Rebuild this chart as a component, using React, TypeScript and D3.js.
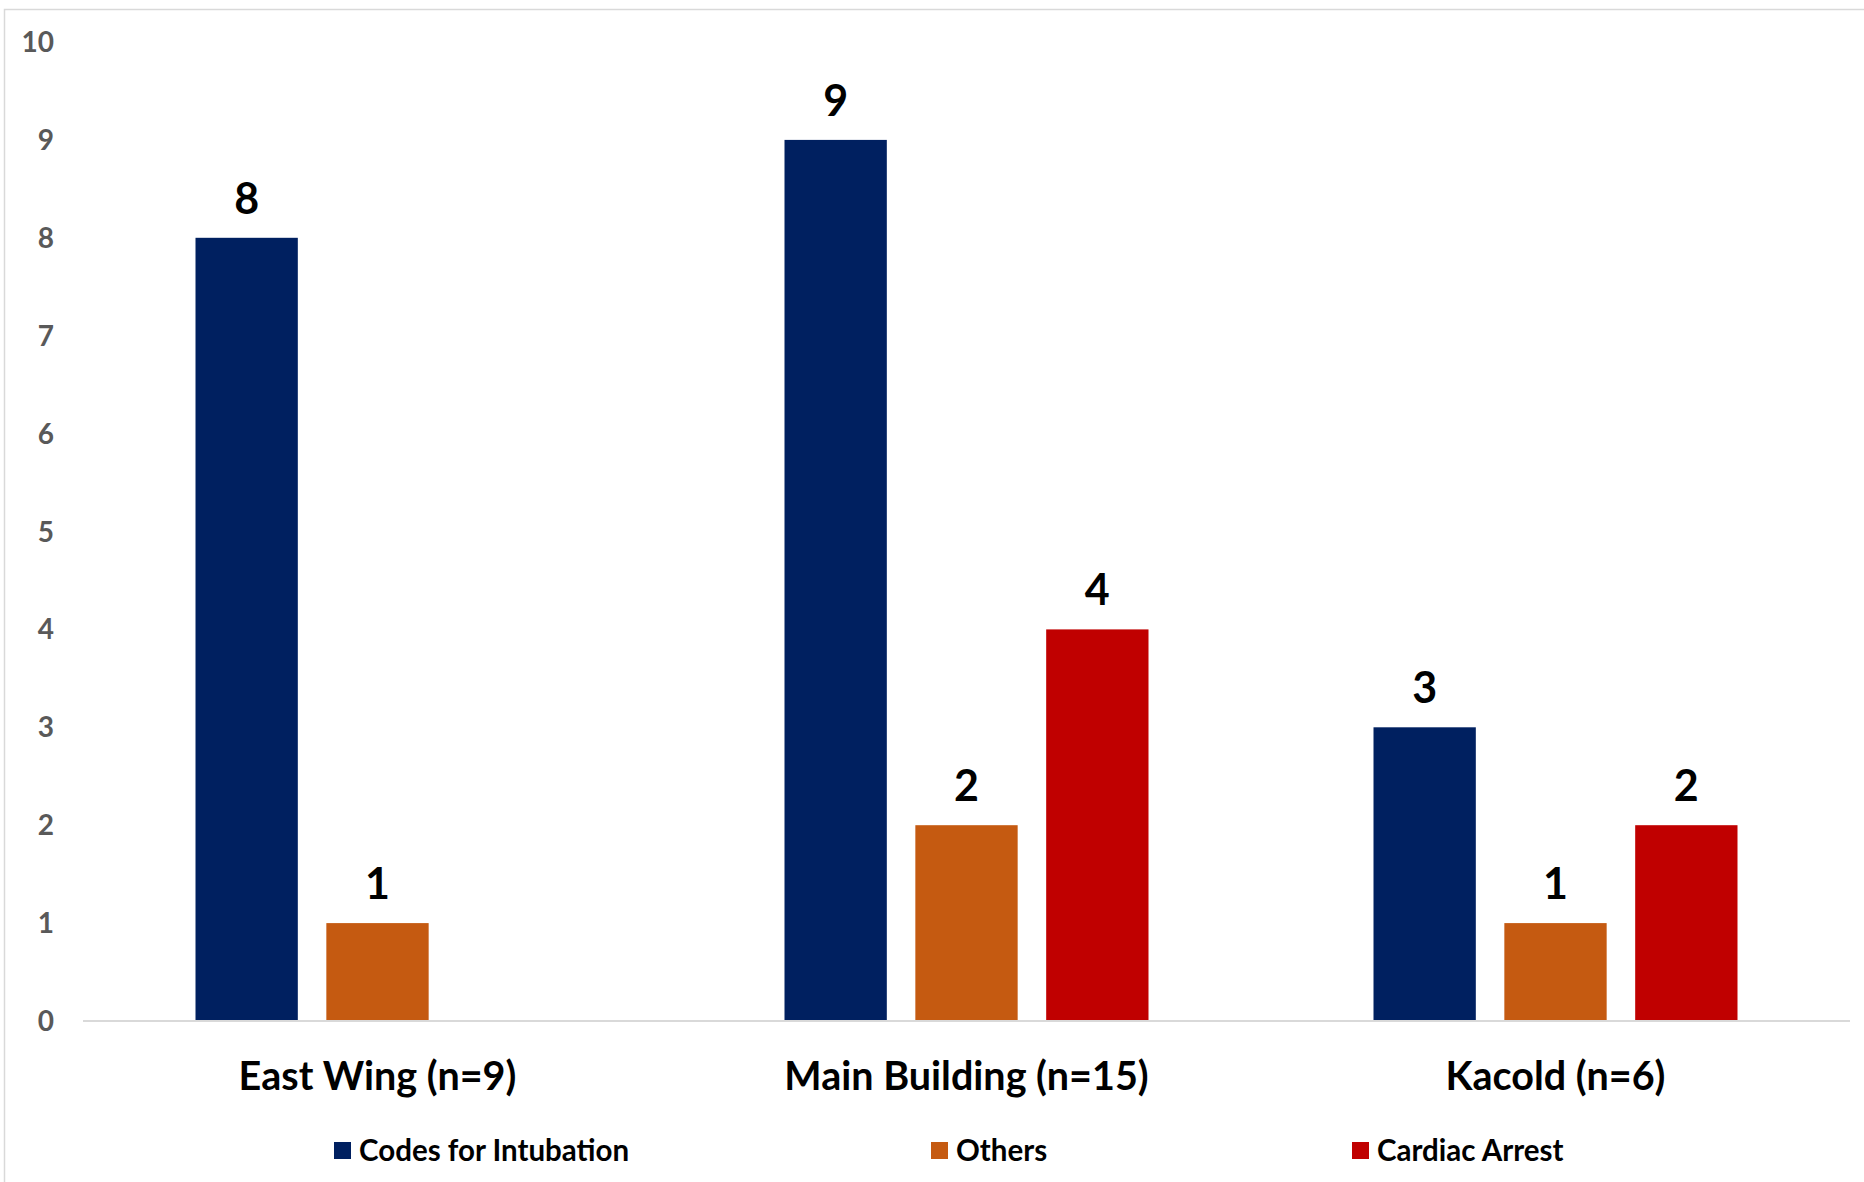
import React from 'react';
import * as d3 from 'd3';

// chart values
const categories = ['East Wing (n=9)', 'Main Building (n=15)', 'Kacold (n=6)'];
const seriesNames = ['Codes for Intubation', 'Others', 'Cardiac Arrest'];
const intubation = [8, 9, 3];
const others = [1, 2, 1];
const cardiacArrest = [null, 4, 2];
const yTicks = [0, 1, 2, 3, 4, 5, 6, 7, 8, 9, 10];

const seriesValues = [intubation, others, cardiacArrest];
const colors = ['#002060', '#C55A11', '#C00000'];

const W = 1864;
const H = 1182;
const margin = { top: 42, right: 14, bottom: 161, left: 83 };
const legendX = [334, 931, 1352];
const font = "Lato, 'Open Sans', sans-serif";

const App: React.FC = () => {
    const x0 = d3.scaleBand<string>()
        .domain(categories)
        .range([margin.left, W - margin.right])
        .paddingInner(0.382)
        .paddingOuter(0.191);

    const x1 = d3.scaleBand<string>()
        .domain(seriesNames)
        .range([0, x0.bandwidth()])
        .paddingInner(0.218);

    const y = d3.scaleLinear()
        .domain([0, 10])
        .range([H - margin.bottom, margin.top]);

    return (
        <svg width={W} height={H} style={{ position: 'absolute', left: 0, top: 0, display: 'block' }}
            fontFamily={font} fontWeight="bold">
            <rect x={0} y={0} width={W} height={H} fill="#fff" />
            {/* chart frame, runs off the right and bottom edges */}
            <rect x={4.5} y={9.5} width={W + 20} height={H + 20} fill="none" stroke="#D9D9D9" strokeWidth={1.5} />

            {/* y tick labels */}
            {yTicks.map(t => (
                <text key={t} x={54} y={y(t)} dy="0.36em" textAnchor="end" fontSize={28} fill="#595959">{t}</text>
            ))}

            {/* bars */}
            {categories.map((c, ci) => (
                <g key={c} transform={`translate(${x0(c)},0)`}>
                    {seriesNames.map((s, si) => {
                        const v = seriesValues[si][ci];
                        if (v == null) return null;
                        const bx = x1(s) as number;
                        return (
                            <g key={s}>
                                <rect x={bx} y={y(v)} width={x1.bandwidth()} height={y(0) - y(v)} fill={colors[si]} />
                                <text x={bx + x1.bandwidth() / 2} y={y(v) - 24} textAnchor="middle" fontSize={43} fill="#000">{v}</text>
                            </g>
                        );
                    })}
                </g>
            ))}

            {/* baseline */}
            <line x1={margin.left} x2={W - margin.right} y1={y(0)} y2={y(0)} stroke="#D9D9D9" strokeWidth={2} />

            {/* category labels */}
            {categories.map(c => (
                <text key={c} x={(x0(c) as number) + x0.bandwidth() / 2} y={1090} textAnchor="middle" fontSize={39.5} fill="#000">{c}</text>
            ))}

            {/* legend */}
            {seriesNames.map((s, i) => (
                <g key={s} transform={`translate(${legendX[i]},0)`}>
                    <rect x={0} y={1142} width={17} height={17} fill={colors[i]} />
                    <text x={25} y={1161} fontSize={29.5} fill="#000">{s}</text>
                </g>
            ))}
        </svg>
    );
};

export default App;
